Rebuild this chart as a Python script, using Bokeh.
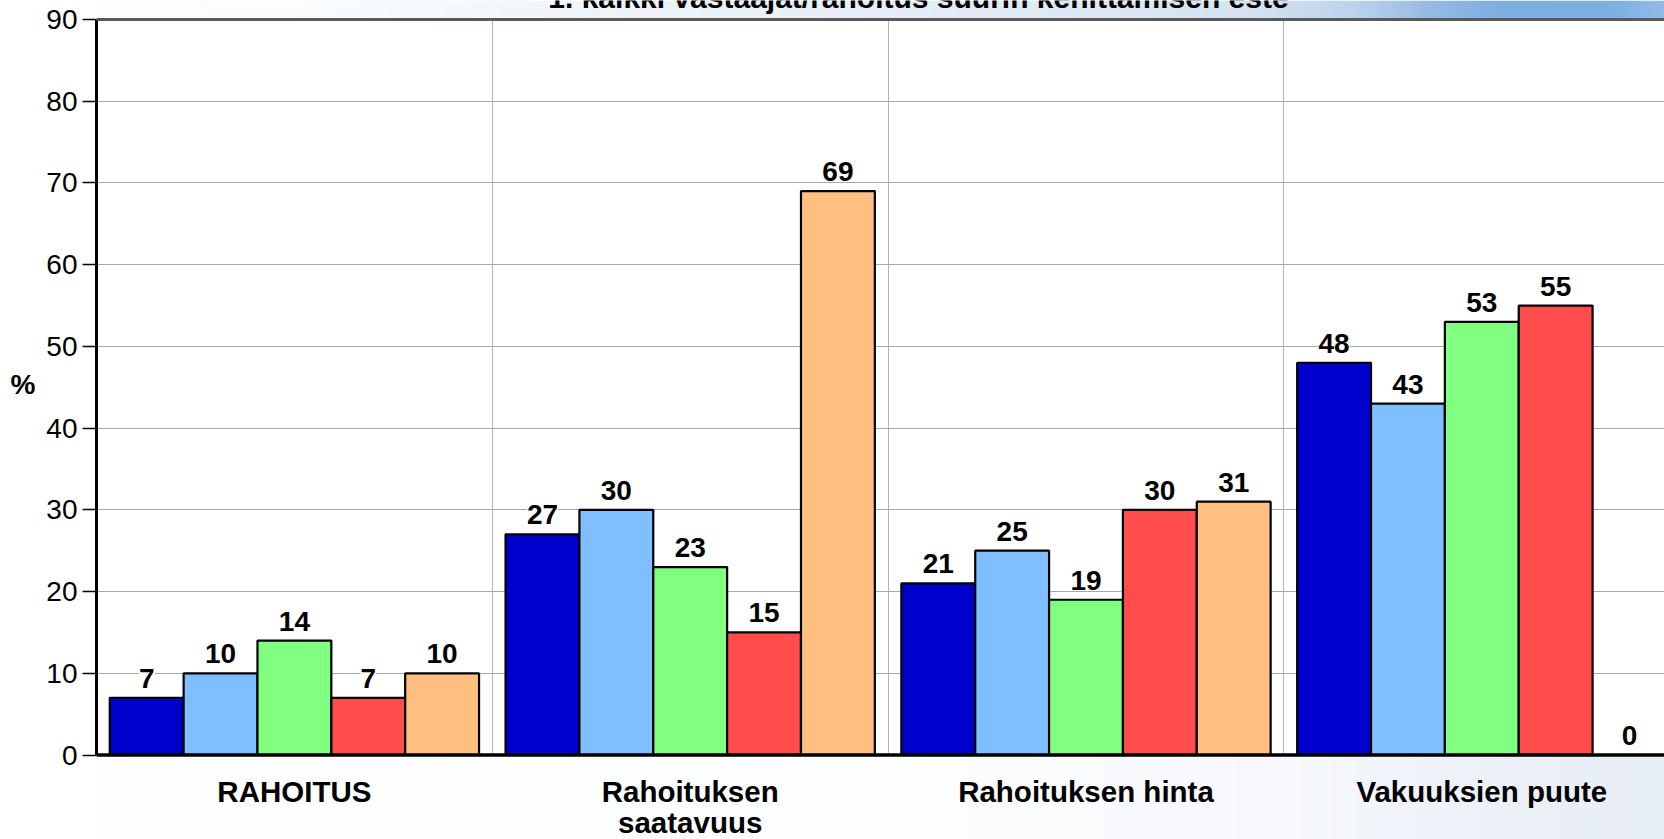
import numpy as np
from bokeh.plotting import figure
from bokeh.models import (ColumnDataSource, FixedTicker, LabelSet, Span, Range1d,
                          LinearAxis)
from bokeh.core.properties import value
from bokeh.embed import file_html
from bokeh.resources import INLINE

# ---- data ----
categories = ["RAHOITUS", "Rahoituksen\nsaatavuus", "Rahoituksen hinta", "Vakuuksien puute"]
series_1 = [7, 27, 21, 48]
series_2 = [10, 30, 25, 43]
series_3 = [14, 23, 19, 53]
series_4 = [7, 15, 30, 55]
series_5 = [10, 69, 31, 0]
y_ticks = [0, 10, 20, 30, 40, 50, 60, 70, 80, 90]
title_text = "1. kaikki vastaajat/rahoitus suurin kehittämisen este"
y_label = "%"

series = [series_1, series_2, series_3, series_4, series_5]
colors = ["#0000CC", "#80BFFF", "#80FF80", "#FF4C4C", "#FFBF80"]

# ---- geometry (pixels of the slide) ----
W, H = 1664, 839
LEFT = 96
zero_px = 754.5               # y pixel of value 0
px_per_unit = 735.5 / 90.0    # pixels per 1 %
y_top = zero_px / px_per_unit
y_bot = (H - zero_px) / px_per_unit
cat_px = 395.8
x_end = (W - LEFT) / cat_px
bw = 0.1866
FONT = "Liberation Sans"


def py(pix):
    """slide pixel row -> data y"""
    return (zero_px - pix) / px_per_unit


p = figure(width=W, height=H, output_backend="svg", toolbar_location=None,
           x_range=Range1d(0, x_end), y_range=Range1d(-y_bot, y_top),
           x_axis_location=None,
           min_border_left=LEFT, min_border_right=0, min_border_top=0,
           min_border_bottom=0)
p.outline_line_color = None
p.background_fill_color = "white"
p.border_fill_color = "white"


def gradient(stops_x, stops_rgb, step=2):
    cols = np.arange(0, W, step, dtype=float)
    ch = [np.interp(cols, stops_x, [c[k] for c in stops_rgb]).astype(np.uint32) for k in range(3)]
    img = (np.uint32(255) << np.uint32(24)) | (ch[2] << np.uint32(16)) | (ch[1] << np.uint32(8)) | ch[0]
    return img.astype(np.uint32).reshape(1, -1)


# slide header band (decoration above the plot)
top_img = gradient([0, 300, 700, 1100, 1250, 1350, 1430, 1500, 1600, 1664],
                   [(255, 255, 255), (250, 252, 254), (236, 242, 249), (222, 232, 244),
                    (214, 226, 240), (190, 212, 236), (150, 186, 228), (126, 174, 224),
                    (124, 174, 226), (145, 188, 232)])
p.image_rgba(image=[top_img], x=-LEFT / cat_px, y=90, dw=W / cat_px, dh=y_top - 90)
# slide background below the plot
bot_img = gradient([0, 900, 1300, 1500, 1664],
                   [(255, 255, 255), (253, 254, 255), (246, 248, 252), (236, 241, 248),
                    (232, 238, 246)])
p.image_rgba(image=[bot_img], x=-LEFT / cat_px, y=-y_bot, dw=W / cat_px, dh=y_bot)

# grids
p.ygrid.ticker = FixedTicker(ticks=y_ticks[1:-1])
p.ygrid.grid_line_color = "#A8A8A8"
p.ygrid.grid_line_width = 1
p.xgrid.ticker = FixedTicker(ticks=[1, 2, 3])
p.xgrid.grid_line_color = "#B4B4B4"
p.xgrid.grid_line_width = 1
p.xgrid.bounds = (0, 90)
p.add_layout(Span(location=90, dimension="width", line_color="#5A5A5A", line_width=3))

# title (cut off at the top, as in the slide)
title_src = ColumnDataSource(dict(x=[(918 - LEFT) / cat_px], y=[py(7)], t=[title_text]))
p.add_layout(LabelSet(x="x", y="y", text="t", source=title_src,
                      text_align="center", text_baseline="alphabetic",
                      text_font=value(FONT), text_font_style="bold",
                      text_font_size="30px", text_color="black"))

# bars
for j, vals in enumerate(series):
    xs = [i + 0.5 + (j - 2) * bw for i in range(len(categories))]
    src = ColumnDataSource(dict(x=xs, top=vals, lab=[str(v) for v in vals]))
    p.vbar(x="x", top="top", bottom=0, width=bw, source=src,
           fill_color=colors[j], line_color="black", line_width=2.2)
    p.add_layout(LabelSet(x="x", y="top", text="lab", source=src,
                          text_align="center", text_baseline="alphabetic",
                          y_offset=10, text_font=value(FONT), text_font_style="bold",
                          text_font_size="28px", text_color="black",
                          background_fill_color="white"))

# baseline (value axis zero line)
p.add_layout(Span(location=0, dimension="width", line_color="black", line_width=3.5))

# category labels under the baseline
cx, cy, ct = [], [], []
for i, c in enumerate(categories):
    for k, line in enumerate(c.split("\n")):
        cx.append(i + 0.5)
        cy.append(py(801.7 + 31 * k))
        ct.append(line)
cat_src = ColumnDataSource(dict(x=cx, y=cy, t=ct))
p.add_layout(LabelSet(x="x", y="y", text="t", source=cat_src,
                      text_align="center", text_baseline="alphabetic",
                      text_font=value(FONT), text_font_style="bold",
                      text_font_size="29.5px", text_color="black"))

# y axis
yax = p.yaxis[0]
yax.ticker = FixedTicker(ticks=y_ticks)
yax.bounds = (0, 90)
yax.axis_line_color = "black"
yax.axis_line_width = 3
yax.major_tick_line_color = "black"
yax.major_tick_line_width = 1.5
yax.major_tick_out = 14
yax.major_tick_in = 0
yax.minor_tick_line_color = None
yax.major_label_text_font = FONT
yax.major_label_text_font_size = "28px"
yax.major_label_text_color = "black"
yax.major_label_standoff = 5

# "%" unit label as an outer axis label at its place
pct_axis = LinearAxis(ticker=FixedTicker(ticks=[45.3]),
                      major_label_overrides={45.3: y_label},
                      axis_line_color=None, major_tick_line_color=None,
                      minor_tick_line_color=None, major_tick_out=0, major_tick_in=0,
                      major_label_standoff=8, major_label_text_font=FONT,
                      major_label_text_font_style="bold",
                      major_label_text_font_size="28px",
                      major_label_text_color="black")
p.add_layout(pct_axis, "left")

open("out.html", "w").write(file_html(p, INLINE))
